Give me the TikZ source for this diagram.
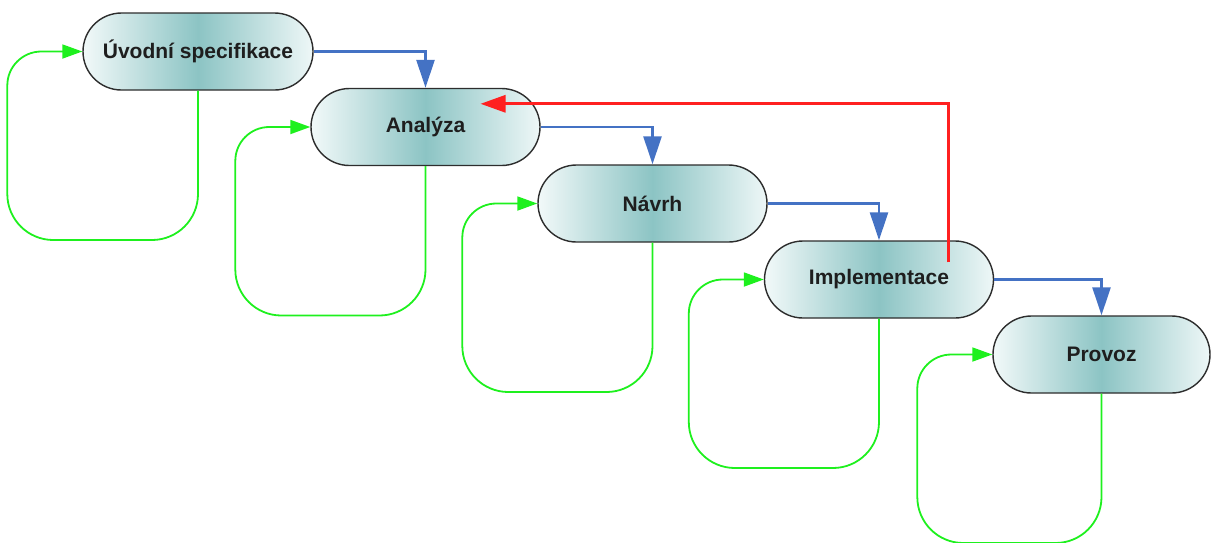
\documentclass[tikz,border=0pt]{standalone}
\usepackage{fontspec}
\setmainfont{Liberation Sans}
\usetikzlibrary{arrows.meta,calc}

\definecolor{pillleft}{RGB}{242,249,249}
\definecolor{pillmid}{RGB}{140,196,196}
\definecolor{pillright}{RGB}{238,247,247}
\definecolor{pillborder}{RGB}{45,45,45}
\definecolor{flowblue}{RGB}{68,114,196}
\definecolor{loopgreen}{RGB}{30,240,30}
\definecolor{backred}{RGB}{255,32,32}
\definecolor{labelgray}{RGB}{30,30,30}

\tikzset{
  x=1pt, y=-1pt,
  phase/.style={draw=pillborder, line width=1.4pt,
    minimum width=229pt, minimum height=77pt, inner sep=0pt,
    rounded corners=38.5pt,
    left color=pillleft, right color=pillright, middle color=pillmid,
    text=labelgray, font=\fontsize{21}{24}\selectfont\bfseries},
  flow/.style={draw=flowblue, line width=2.4pt,
    -{Triangle[length=28pt,width=18pt]}},
  rework/.style={draw=loopgreen, line width=1.8pt,
    -{Triangle[length=20pt,width=14pt]}},
  feedback/.style={draw=backred, line width=3pt,
    -{Triangle[length=25pt,width=17pt]}}
}

\begin{document}
\begin{tikzpicture}
  \useasboundingbox (0,0) rectangle (1211,542);

  % phases of the waterfall
  \node[phase, minimum width=230pt] (spec) at (198,51.5)   {Úvodní specifikace};
  \node[phase] (anal) at (425.5,127)  {Analýza};
  \node[phase] (navr) at (652.5,203.5) {Návrh};
  \node[phase] (impl) at (879,279.5)  {Implementace};
  \node[phase, minimum width=217pt] (prov) at (1101.5,354.5) {Provoz};

  % iteration loops inside each phase
  \foreach \n in {spec,anal,navr,impl,prov}{
    \draw[rework, rounded corners=46pt]
      (\n.south) |- ($(\n.west)+(-75,188.5)$) [rounded corners=34pt] |- (\n.west);
  }

  % forward flow between phases
  \draw[flow] (spec.east) -| (anal.north);
  \draw[flow] (anal.east) -| (navr.north);
  \draw[flow] (navr.east) -| (impl.north);
  \draw[flow] (impl.east) -| (prov.north);

  % return from implementation back to analysis
  \coordinate (retfrom) at ($(impl.north)+(69,22)$);
  \coordinate (retto) at ($(anal.north)+(55,16)$);
  \draw[feedback] (retfrom) |- (retto);
\end{tikzpicture}
\end{document}
